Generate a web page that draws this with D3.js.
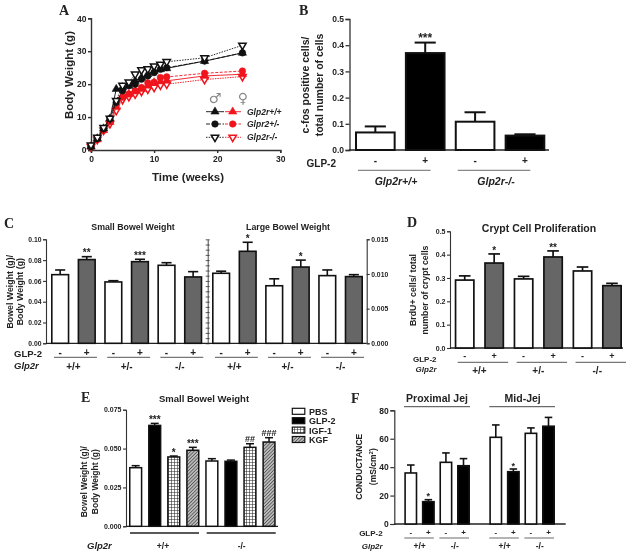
<!DOCTYPE html>
<html><head><meta charset="utf-8">
<script src="https://cdn.jsdelivr.net/npm/d3@7"></script>
<style>
html,body{margin:0;padding:0;background:#fff}
svg{display:block;filter:blur(0.4px)}
text{font-family:"Liberation Sans",Arial,sans-serif;fill:#222}
.domain,.tick line{stroke:#333}
</style></head><body><svg id="c" width="632" height="555"></svg>
<script>
// ---------- Data ----------
const weeks=[0,1,2,3,4,5,6,7,8,9,10,11,12,18,24];
const maleWT=[1,3.5,6.5,9.5,18.5,19,19.5,21,22,23,24,24.5,24.8,27,29.5];
const maleHet=[1,3.5,6.5,9.5,14.5,18,19.5,20,21.5,22.5,23.5,24.5,25,27,29.5];
const maleKO=[1.5,3.8,6.8,9.6,15,19.6,20.6,23,24.3,24.6,25.5,26,26.8,28,31.8];
const femaleWT=[1,3.2,6,8.5,13,16.5,17,17.8,18.5,19.5,20.5,20.8,21,22.5,23];
const femaleHet=[1,3.2,6,8.6,13.5,16,17,18,19,20.4,20.6,22,22.2,23.3,24];
const femaleKO=[1,3.2,6,8,12,15.3,16.2,17,17.8,18.5,19,19.7,20,21.4,22.3];
const legendNames=["Glp2r+/+","Glpr2+/-","Glp2r-/-"];

const bValues=[0.067,0.37,0.108,0.055];
const bErrors=[0.023,0.04,0.036,0.005];
const bStars=["","***","",""];
const bGroups=["Glp2r+/+","Glp2r-/-"];

const cSmallValues=[0.066,0.0805,0.059,0.0785,0.075,0.0638];
const cSmallErrors=[0.0045,0.0028,0.0012,0.0023,0.0025,0.0051];
const cSmallStars=["","**","","***","",""];
const cLargeValues=[0.0101,0.01327,0.0083,0.0110,0.00976,0.00962];
const cLargeErrors=[0.0003,0.0013,0.001,0.001,0.00082,0.00028];
const cLargeStars=["","*","","*","",""];
const genotypes=["+/+","+/-","-/-"];

const dValues=[0.291,0.364,0.296,0.39,0.33,0.267];
const dErrors=[0.018,0.039,0.011,0.026,0.017,0.01];
const dStars=["","*","","**","",""];

const eTreatments=["PBS","GLP-2","IGF-1","KGF"];
const eValues=[0.0377,0.0649,0.0446,0.0489,0.042,0.0418,0.0508,0.0542];
const eErrors=[0.0013,0.0013,0.0006,0.0019,0.0015,0.0008,0.0023,0.0028];
const eStars=["","***","*","***","","","##","###"];
const eGroups=["+/+","-/-"];

const fProxValues=[35.9,15.7,43.4,41];
const fProxErrors=[5.6,1.4,6.6,5];
const fProxStars=["","*","",""];
const fMidValues=[61,36.8,63.8,68.8];
const fMidErrors=[8.7,1.9,3.8,6.2];
const fMidStars=["","*","",""];
const fGroups=["+/+","-/-"];

// ---------- Helpers ----------
const svg=d3.select("#c");
const DARK="#111",GRAY="#666",RED="#f0141c";
const defs=svg.append("defs");
const grid=defs.append("pattern").attr("id","grid").attr("width",3).attr("height",3).attr("patternUnits","userSpaceOnUse");
grid.append("rect").attr("width",3).attr("height",3).attr("fill","#fff");
grid.append("path").attr("d","M0 0H3M0 0V3").attr("stroke","#222").attr("stroke-width",1.1).attr("fill","none");
const hatch=defs.append("pattern").attr("id","hatch").attr("width",2.4).attr("height",2.4).attr("patternUnits","userSpaceOnUse").attr("patternTransform","rotate(45)");
hatch.append("rect").attr("width",2.4).attr("height",2.4).attr("fill","#bbb");
hatch.append("path").attr("d","M0 0V2.4").attr("stroke","#333").attr("stroke-width",1.2);

function txt(x,y,s,o={}){
  const t=svg.append("text").attr("x",x).attr("y",y).text(s)
    .attr("font-size",o.size||9).attr("font-weight",o.weight||"bold")
    .attr("text-anchor",o.anchor||"middle");
  if(o.italic)t.attr("font-style","italic");
  if(o.serif)t.style("font-family",'"Liberation Serif",serif');
  if(o.rot)t.attr("transform",`rotate(-90 ${x} ${y})`);
  if(o.fill)t.style("fill",o.fill);
  if(o.font)t.style("font-family",o.font);
  return t;
}
function hline(x1,x2,y,w=0.9,c="#333"){
  svg.append("line").attr("x1",x1).attr("x2",x2).attr("y1",y).attr("y2",y).attr("stroke",c).attr("stroke-width",w);
}
function axis(scale,x,ticks,fmt,size,side="left",tick=4,w=1.2){
  const a=(side==="left"?d3.axisLeft(scale):d3.axisRight(scale)).tickValues(ticks).tickFormat(d3.format(fmt)).tickSize(tick).tickSizeOuter(tick).tickPadding(1.5);
  const g=svg.append("g").attr("transform",`translate(${x},0)`).call(a);
  g.selectAll("text").attr("font-size",size).attr("font-weight","bold");
  g.selectAll("line,path").attr("stroke-width",w);
  return g;
}
function bars(values,errors,stars,fills,a,b,pad,y,o={}){
  const x=d3.scaleBand().domain(values.map((_,i)=>i)).range([a,b]).paddingInner(pad).paddingOuter(0);
  const g=svg.append("g");
  const sw=o.sw||1.6;
  const items=values.map((v,i)=>({v,e:errors[i],s:stars[i],f:fills[i],i}));
  const capW=x.bandwidth()*(o.cap||0.52);
  const eb=g.selectAll("g.e").data(items).enter().append("g");
  eb.append("line").attr("x1",d=>x(d.i)+x.bandwidth()/2).attr("x2",d=>x(d.i)+x.bandwidth()/2)
    .attr("y1",d=>y(d.v)).attr("y2",d=>y(d.v+d.e)).attr("stroke",DARK).attr("stroke-width",sw);
  eb.append("line").attr("x1",d=>x(d.i)+x.bandwidth()/2-capW/2).attr("x2",d=>x(d.i)+x.bandwidth()/2+capW/2)
    .attr("y1",d=>y(d.v+d.e)).attr("y2",d=>y(d.v+d.e)).attr("stroke",DARK).attr("stroke-width",sw);
  g.selectAll("rect").data(items).enter().append("rect")
    .attr("x",d=>x(d.i)+sw/2).attr("width",x.bandwidth()-sw)
    .attr("y",d=>y(d.v)).attr("height",d=>y(0)-y(d.v))
    .attr("fill",d=>d.f).attr("stroke",DARK).attr("stroke-width",sw);
  g.selectAll("text").data(items.filter(d=>d.s)).enter().append("text")
    .attr("x",d=>x(d.i)+x.bandwidth()/2).attr("y",d=>y(d.v+d.e)+(d.s[0]==="#"?-2:(o.starDy??-0.3)))
    .attr("text-anchor","middle").attr("font-size",d=>d.s[0]==="#"?9:(o.star||10)).attr("font-weight","bold").text(d=>d.s);
  return x;
}
function pm(x,yLab,yLine,yGroup,groups,size,gsize,lw=0.9,inset=[2,4]){
  x.domain().forEach(i=>txt(x(i)+x.bandwidth()/2,yLab,i%2?"+":"-",{size}));
  groups.forEach((g,k)=>{
    const l=x(k*2),r=x(k*2+1)+x.bandwidth();
    hline(l+inset[0],r-inset[1],yLine,lw,"#444");
    txt((l+r)/2,yGroup,g,{size:gsize});
  });
}
const alt=(w,k)=>[w,k,w,k,w,k,w,k];

// ---------- Panel A ----------
txt(59,15,"A",{size:14,anchor:"start",serif:true});
const ax=d3.scaleLinear().domain([0,30]).range([91,280.3]);
const ay=d3.scaleLinear().domain([0,40]).range([150,18.3]);
axis(ay,91,[0,10,20,30,40],"d",8.5,"left",3,1.4);
const axb=svg.append("g").attr("transform","translate(0,150)").call(d3.axisBottom(ax).tickValues([0,10,20,30]).tickSize(3).tickSizeOuter(3).tickFormat(d3.format("d")).tickPadding(3));
axb.selectAll("text").attr("font-size",8.5).attr("font-weight","bold");
axb.selectAll("line,path").attr("stroke-width",1.4);
txt(73,75,"Body Weight (g)",{size:11.5,rot:true});
txt(188,181,"Time (weeks)",{size:11.5});
const sym={tri:d3.symbol().type(d3.symbolTriangle).size(30)(),circ:d3.symbol().type(d3.symbolCircle).size(34)(),inv:d3.symbol().type(d3.symbolTriangle).size(24)()};
function mark(g,kind,x,y,color,open){
  g.append("path").attr("d",sym[kind]).attr("transform",`translate(${x},${y})${kind==="inv"?" rotate(180)":""}`)
   .attr("fill",open?"#fff":color).attr("stroke",color).attr("stroke-width",open?1.5:0.5);
}
const series=[
 {d:femaleKO,c:RED,k:"inv",o:true,dash:"1.5,1"},
 {d:femaleWT,c:RED,k:"tri",o:false,dash:null},
 {d:femaleHet,c:RED,k:"circ",o:false,dash:"3,1.5"},
 {d:maleWT,c:DARK,k:"tri",o:false,dash:null},
 {d:maleHet,c:DARK,k:"circ",o:false,dash:"4,1.5"},
 {d:maleKO,c:DARK,k:"inv",o:true,dash:"1.5,1.2"}];
const line=d3.line().x((_,i)=>ax(weeks[i])).y(d=>ay(d));
series.forEach(s=>{
  const g=svg.append("g");
  const p=g.append("path").attr("d",line(s.d)).attr("fill","none").attr("stroke",s.c).attr("stroke-width",0.9);
  if(s.dash)p.attr("stroke-dasharray",s.dash);
  s.d.forEach((v,i)=>mark(g,s.k,ax(weeks[i]),ay(v),s.c,s.o));
});
txt(215,103,"♂",{size:14,weight:"normal",fill:"#888",font:'"DejaVu Sans"'});
txt(243,103,"♀",{size:14,weight:"normal",fill:"#888",font:'"DejaVu Sans"'});
const lg=svg.append("g");
[["tri",111.7,null,null],["circ",124,"4,1.5","3,1.5"],["inv",137.3,"1.5,1.2","1.5,1"]].forEach((r,i)=>{
  const bl=lg.append("line").attr("x1",206).attr("x2",224).attr("y1",r[1]).attr("y2",r[1]).attr("stroke",DARK).attr("stroke-width",0.9);
  const rl=lg.append("line").attr("x1",225).attr("x2",241).attr("y1",r[1]).attr("y2",r[1]).attr("stroke",RED).attr("stroke-width",0.9);
  if(r[2]){bl.attr("stroke-dasharray",r[2]);rl.attr("stroke-dasharray",r[3]);}
  mark(lg,r[0],215,r[1],DARK,i===2);
  mark(lg,r[0],232.7,r[1],RED,i===2);
  txt(247,r[1]+3,legendNames[i],{size:8.5,italic:true,anchor:"start"});
});

// ---------- Panel B ----------
txt(299,15,"B",{size:14,anchor:"start",serif:true});
const by=d3.scaleLinear().domain([0,0.5]).range([150,19]);
axis(by,349.5,[0,0.1,0.2,0.3,0.4,0.5],".1f",8.5,"left",4,1.3);
hline(349,549,150,1.5,"#222");
const bx=bars(bValues,bErrors,bStars,alt("#fff","#000"),355,545.3,0.185,by,{sw:2,cap:0.52,star:12});
pm(bx,164,170.3,185,bGroups.map(_=>""),10,10,0.8,[3,15]);
txt(396,185,bGroups[0],{size:10.5,italic:true});
txt(496,185,bGroups[1],{size:10.5,italic:true});
txt(336,167,"GLP-2",{size:10,anchor:"end"});
txt(309,85,"c-fos positive cells/",{size:10.5,rot:true});
txt(323,85,"total number of cells",{size:10.5,rot:true});

// ---------- Panel C ----------
txt(4,228,"C",{size:14,anchor:"start",serif:true});
const cy=d3.scaleLinear().domain([0,0.1]).range([343.3,239.3]);
const cy2=d3.scaleLinear().domain([0,0.015]).range([343.3,239.3]);
axis(cy,46,[0,0.02,0.04,0.06,0.08,0.1],".2f",6.8,"left",3,1.1);
const mid=svg.append("g").attr("transform","translate(207.7,0)").call(d3.axisLeft(cy).tickValues(d3.range(0,21).map(i=>i*0.005)).tickSize(2).tickSizeOuter(0).tickFormat(""));
mid.selectAll("line").attr("x2",2).attr("x1",-2).attr("stroke-width",0.8);
mid.selectAll("path").attr("stroke-width",0.9);
axis(cy2,366.7,[0,0.005,0.01,0.015],".3f",6.8,"right",3,1.1);
hline(46,366.7,343.3,1.2,"#222");
const cx1=bars(cSmallValues,cSmallErrors,cSmallStars,alt("#fff",GRAY),51,202.3,0.31,cy,{sw:1.6,cap:0.55});
const cx2=bars(cLargeValues,cLargeErrors,cLargeStars,alt("#fff",GRAY),212,363,0.31,cy2,{sw:1.6,cap:0.55});
pm(cx1,356,357.3,370,genotypes,10,10,0.9,[3,-1]);
pm(cx2,356,357.3,370,genotypes,10,10,0.9,[3,-1]);
txt(14,357,"GLP-2",{size:9.5,anchor:"start"});
txt(14,369,"Glp2r",{size:9.5,anchor:"start",italic:true});
txt(133,230,"Small Bowel Weight",{size:8.8});
txt(288,230,"Large Bowel Weight",{size:8.8});
txt(13,291.7,"Bowel Weight (g)/",{size:8.8,rot:true});
txt(23,291.7,"Body Weight (g)",{size:8.8,rot:true});

// ---------- Panel D ----------
txt(407,227,"D",{size:14,anchor:"start",serif:true});
const dy=d3.scaleLinear().domain([0,0.5]).range([348,231.3]);
axis(dy,450,[0,0.1,0.2,0.3,0.4,0.5],".1f",7,"left",3,1.1);
hline(450,623,348,1.3,"#222");
const dx=bars(dValues,dErrors,dStars,alt("#fff",GRAY),454.7,622,0.32,dy,{sw:1.7,cap:0.58});
pm(dx,358.5,362.3,374,genotypes,9,10,0.9,[3,-4]);
txt(436.5,362,"GLP-2",{size:8,anchor:"end"});
txt(436.5,372,"Glp2r",{size:8,anchor:"end",italic:true});
txt(539,232,"Crypt Cell Proliferation",{size:10.5});
txt(416,290,"BrdU+ cells/ total",{size:8.8,rot:true});
txt(428,290,"number of crypt cells",{size:8.8,rot:true});

// ---------- Panel E ----------
txt(81,402,"E",{size:14,anchor:"start",serif:true});
const ey=d3.scaleLinear().domain([0,0.075]).range([526.3,409.7]);
axis(ey,126,[0,0.025,0.05,0.075],".3f",7,"left",3,1.1);
hline(126,278,526.3,1.3,"#222");
const eFills=["#fff","#000","url(#grid)","url(#hatch)"];
const ex=bars(eValues,eErrors,eStars,eValues.map((_,i)=>eFills[i%4]),129,275.7,0.3,ey,{sw:1.5,cap:0.6,star:10});
hline(130,199,533,1.3,"#222");hline(206.7,275.7,533,1.3,"#222");
txt(163,549,eGroups[0],{size:8.5});txt(241.7,549,eGroups[1],{size:8.5});
txt(87,549,"Glp2r",{size:9.5,italic:true,anchor:"start"});
txt(204,402,"Small Bowel Weight",{size:9.5});
txt(87,481.7,"Bowel Weight (g)/",{size:8.5,rot:true});
txt(98,481.7,"Body Weight (g)",{size:8.5,rot:true});
eTreatments.forEach((t,i)=>{
  const yc=411.3+i*9.4;
  svg.append("rect").attr("x",292.3).attr("y",yc-3).attr("width",12.5).attr("height",6).attr("fill",eFills[i]).attr("stroke",DARK).attr("stroke-width",1.2);
  txt(309,yc+3.5,t,{size:9,anchor:"start"});
});

// ---------- Panel F ----------
txt(351,403,"F",{size:14,anchor:"start",serif:true});
const fy=d3.scaleLinear().domain([0,80]).range([524,410.3]);
axis(fy,394.3,[0,20,40,60,80],"d",8.5,"left",4,1.2);
hline(394.3,565.7,524,1.3,"#222");
const fx1=bars(fProxValues,fProxErrors,fProxStars,alt("#fff","#000"),404.3,470,0.26,fy,{sw:1.6,cap:0.58,star:9});
const fx2=bars(fMidValues,fMidErrors,fMidStars,alt("#fff","#000"),489.3,555,0.26,fy,{sw:1.6,cap:0.58,star:9});
pm(fx1,534.5,538,549,fGroups,8,8.5,0.8,[0,1]);
pm(fx2,534.5,538,549,fGroups,8,8.5,0.8,[0,1]);
txt(382.7,536,"GLP-2",{size:8,anchor:"end"});
txt(382.7,549,"Glp2r",{size:8,anchor:"end",italic:true});
txt(437,402,"Proximal Jej",{size:10.5});hline(404,470,406.7,0.9);
txt(522.7,402,"Mid-Jej",{size:10.5});hline(489.3,555,406.7,0.9);
txt(362.5,466.7,"CONDUCTANCE",{size:8.5,rot:true});
const uy=txt(376,466.7,"(mS/cm",{size:8.5,rot:true});
uy.append("tspan").attr("dy",-3).attr("font-size",6).text("2");
uy.append("tspan").attr("dy",3).text(")");
</script></body></html>
